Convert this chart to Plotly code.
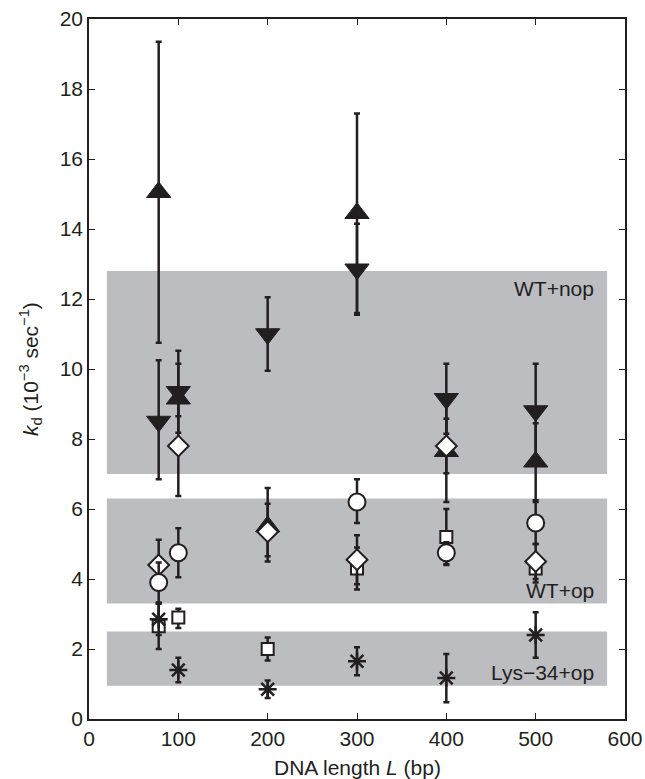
import plotly.graph_objects as go

L = [78, 100, 200, 300, 400, 500]

up_y = [15.05, 9.15, 5.5, 14.45, 7.65, 7.35]
up_ep = [4.3, 1.0, 1.1, 2.85, 1.45, 1.1]
up_em = [4.3, 0.5, 1.0, 2.85, 1.45, 1.1]

dn_y = [8.5, 9.35, 11.0, 12.85, 9.15, 8.8]
dn_ep = [1.75, 1.17, 1.05, 1.3, 1.0, 1.35]
dn_em = [1.65, 1.17, 1.05, 1.3, 1.0, 1.35]

dia_y = [4.4, 7.8, 5.35, 4.55, 7.8, 4.5]
dia_ep = [0.72, 1.43, 0.8, 0.7, 0.78, 0.5]
dia_em = [0.72, 1.43, 0.7, 0.7, 0.78, 0.5]

cir_x = [78, 100, 300, 400, 500]
cir_y = [3.9, 4.75, 6.2, 4.75, 5.6]
cir_ep = [0.57, 0.7, 0.65, 0.3, 0.6]
cir_em = [0.57, 0.7, 0.6, 0.33, 0.6]

sq_y = [2.65, 2.9, 2.0, 4.3, 5.2, 4.3]
sq_ep = [0.65, 0.25, 0.33, 0.6, 0.8, 0.4]
sq_em = [0.65, 0.3, 0.33, 0.6, 0.8, 0.4]

ast_y = [2.85, 1.4, 0.85, 1.65, 1.17, 2.4]
ast_e = [0.45, 0.35, 0.25, 0.4, 0.69, 0.65]

band_lo = [7.0, 3.3, 0.95]
band_hi = [12.8, 6.3, 2.5]
band_x = [20, 580]
band_labels = ["WT+nop", "WT+op", "Lys\u221234+op"]
label_y = [12.3, 3.67, 1.32]

x_ticks = [0, 100, 200, 300, 400, 500, 600]
y_ticks = list(range(0, 21, 2))

x_title = "DNA length <i>L</i> (bp)"
y_title = "<i>k</i><sub>d</sub> (10<sup>\u22123</sup> sec<sup>\u22121</sup>)"

INK = "#231f20"
FONT = "Liberation Sans, Arial, Helvetica, sans-serif"
FS = 21

fig = go.Figure()

for lo, hi in zip(band_lo, band_hi):
    fig.add_shape(type="rect", x0=band_x[0], x1=band_x[1], y0=lo, y1=hi,
                  xref="x", yref="y", fillcolor="#bcbdc1", line_width=0, layer="below")

for txt, yy in zip(band_labels, label_y):
    fig.add_annotation(x=567, y=yy, text=txt, showarrow=False, xanchor="right",
                       yanchor="middle", font=dict(size=FS, color=INK, family=FONT))

fig.add_annotation(x=0.5, y=0, xref="paper", yref="paper", text=x_title,
                   showarrow=False, xanchor="center", yanchor="middle", yshift=-48,
                   font=dict(size=FS, color=INK, family=FONT))
fig.add_annotation(x=0, y=0.5, xref="paper", yref="paper", text=y_title,
                   showarrow=False, xanchor="center", yanchor="middle", xshift=-59,
                   textangle=-90, font=dict(size=FS, color=INK, family=FONT))


def add(x, y, ep, em, symbol, size, fill, lw):
    fig.add_trace(go.Scatter(
        x=x, y=y, mode="markers",
        marker=dict(symbol=symbol, size=size, color=fill,
                    line=dict(color=INK, width=lw)),
        error_y=dict(type="data", symmetric=False, array=ep, arrayminus=em,
                     color=INK, thickness=2.5, width=3),
        showlegend=False, cliponaxis=False))


add(L, sq_y, sq_ep, sq_em, "square", 12, "white", 2)
add(L, ast_y, ast_e, ast_e, "asterisk-open", 15, INK, 2.5)
add(L, up_y, up_ep, up_em, "triangle-up", 21, INK, 1)
add(L, dn_y, dn_ep, dn_em, "triangle-down", 21, INK, 1)
add(L, dia_y, dia_ep, dia_em, "diamond", 16, "white", 2)
add(cir_x, cir_y, cir_ep, cir_em, "circle", 17, "white", 2)

axis_common = dict(showline=True, linecolor=INK, linewidth=1.5, mirror="ticks",
                   ticks="inside", ticklen=6, tickwidth=1.2, tickcolor=INK,
                   showgrid=False, zeroline=False, automargin=False,
                   tickfont=dict(size=FS, color=INK, family=FONT))

fig.update_layout(
    width=645, height=779,
    margin=dict(l=89, r=20, t=19, b=60, autoexpand=False),
    paper_bgcolor="white", plot_bgcolor="white",
    xaxis=dict(range=[0, 600], tickvals=x_ticks, **axis_common),
    yaxis=dict(range=[0, 20], tickvals=y_ticks, **axis_common),
)

fig.write_html("out.html")
